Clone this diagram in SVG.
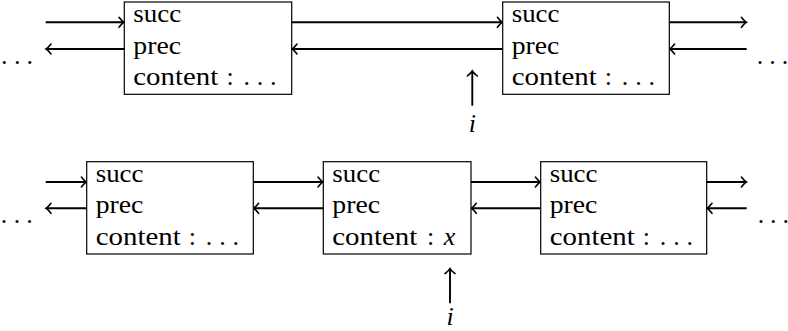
<svg xmlns="http://www.w3.org/2000/svg" width="788" height="331" viewBox="0 0 788 331">
<defs>
<marker id="ah" markerUnits="userSpaceOnUse" markerWidth="12" markerHeight="12" viewBox="-6 -6 12 12" refX="0" refY="0" orient="auto" overflow="visible">
<path d="M -4.6 -5 Q -1.2 -0.9 0.4 0 Q -1.2 0.9 -4.6 5" fill="none" stroke="#000" stroke-width="1.6" stroke-linecap="round"/>
</marker>
<style>
.box{fill:#fff;stroke:#000;stroke-width:1.2}
text{font-size:26px;fill:#000}
.m,.it{text-anchor:middle}
.it{font-style:italic}
.c line{stroke:#000;stroke-width:1.9;marker-end:url(#ah)}
</style>
</defs>
<rect width="788" height="331" fill="#fff"/>

<g class="c" id="connectors">
<line x1="45.7" y1="22.3" x2="123.6" y2="22.3"/>
<line x1="124.3" y1="49" x2="46.4" y2="49"/>
<line x1="291.7" y1="22.3" x2="502" y2="22.3"/>
<line x1="502.7" y1="49" x2="292.4" y2="49"/>
<line x1="669.3" y1="22.3" x2="746" y2="22.3"/>
<line x1="746.7" y1="49" x2="670" y2="49"/>
<line x1="472.3" y1="105.7" x2="472.3" y2="71.4"/>
<line x1="45.7" y1="182" x2="86" y2="182"/>
<line x1="86.7" y1="208.3" x2="46.4" y2="208.3"/>
<line x1="253.3" y1="182" x2="322.6" y2="182"/>
<line x1="323.3" y1="208.3" x2="254" y2="208.3"/>
<line x1="471" y1="182" x2="540" y2="182"/>
<line x1="540.7" y1="208.3" x2="471.7" y2="208.3"/>
<line x1="706.7" y1="182" x2="746" y2="182"/>
<line x1="746.7" y1="208.3" x2="707.4" y2="208.3"/>
<line x1="450" y1="303.3" x2="450" y2="269"/>
</g>

<g font-family="Liberation Serif, Times New Roman, serif">
<g id="node-top-1" transform="translate(124.3,2)">
<rect class="box" x="0" y="0" width="167.4" height="92.3"/>
<text x="9" y="20" textLength="47.8" lengthAdjust="spacingAndGlyphs">succ</text>
<text x="9" y="51.5" textLength="47.7" lengthAdjust="spacingAndGlyphs">prec</text>
<text x="9" y="83" textLength="85" lengthAdjust="spacingAndGlyphs">content</text>
<text class="m" x="105.7" y="83">:</text>
<text class="m" y="83"><tspan x="122.4">.</tspan><tspan x="135.7">.</tspan><tspan x="149">.</tspan></text>
</g>

<g id="node-top-2" transform="translate(502.7,2)">
<rect class="box" x="0" y="0" width="166.6" height="92.3"/>
<text x="9" y="20" textLength="47.8" lengthAdjust="spacingAndGlyphs">succ</text>
<text x="9" y="51.5" textLength="47.7" lengthAdjust="spacingAndGlyphs">prec</text>
<text x="9" y="83" textLength="85" lengthAdjust="spacingAndGlyphs">content</text>
<text class="m" x="105.7" y="83">:</text>
<text class="m" y="83"><tspan x="122.4">.</tspan><tspan x="135.7">.</tspan><tspan x="149">.</tspan></text>
</g>

<g id="node-bot-1" transform="translate(86.7,161.7)">
<rect class="box" x="0" y="0" width="166.6" height="92.3"/>
<text x="9" y="20" textLength="47.8" lengthAdjust="spacingAndGlyphs">succ</text>
<text x="9" y="51.5" textLength="47.7" lengthAdjust="spacingAndGlyphs">prec</text>
<text x="9" y="83" textLength="85" lengthAdjust="spacingAndGlyphs">content</text>
<text class="m" x="105.7" y="83">:</text>
<text class="m" y="83"><tspan x="122.4">.</tspan><tspan x="135.7">.</tspan><tspan x="149">.</tspan></text>
</g>

<g id="node-bot-2" transform="translate(323.3,161.7)">
<rect class="box" x="0" y="0" width="147.7" height="92.3"/>
<text x="9" y="20" textLength="47.8" lengthAdjust="spacingAndGlyphs">succ</text>
<text x="9" y="51.5" textLength="47.7" lengthAdjust="spacingAndGlyphs">prec</text>
<text x="9" y="83" textLength="85" lengthAdjust="spacingAndGlyphs">content</text>
<text class="m" x="107.4" y="83">:</text>
<text class="it" x="126.2" y="83">x</text>
</g>

<g id="node-bot-3" transform="translate(540.7,161.7)">
<rect class="box" x="0" y="0" width="166" height="92.3"/>
<text x="9" y="20" textLength="47.8" lengthAdjust="spacingAndGlyphs">succ</text>
<text x="9" y="51.5" textLength="47.7" lengthAdjust="spacingAndGlyphs">prec</text>
<text x="9" y="83" textLength="85" lengthAdjust="spacingAndGlyphs">content</text>
<text class="m" x="105.7" y="83">:</text>
<text class="m" y="83"><tspan x="122.4">.</tspan><tspan x="135.7">.</tspan><tspan x="149">.</tspan></text>
</g>

<g id="dots-top-left"><text class="m" y="64"><tspan x="4.3">.</tspan><tspan x="17.3">.</tspan><tspan x="29.8">.</tspan></text></g>
<g id="dots-top-right"><text class="m" y="64"><tspan x="760">.</tspan><tspan x="772.5">.</tspan><tspan x="785">.</tspan></text></g>
<g id="dots-bot-left"><text class="m" y="223.3"><tspan x="4">.</tspan><tspan x="17">.</tspan><tspan x="29.5">.</tspan></text></g>
<g id="dots-bot-right"><text class="m" y="223.3"><tspan x="761">.</tspan><tspan x="773.3">.</tspan><tspan x="785.7">.</tspan></text></g>

<g id="label-i-top"><text class="it" x="472.3" y="131.7">i</text></g>
<g id="label-i-bot"><text class="it" x="450" y="325">i</text></g>
</g>
</svg>
